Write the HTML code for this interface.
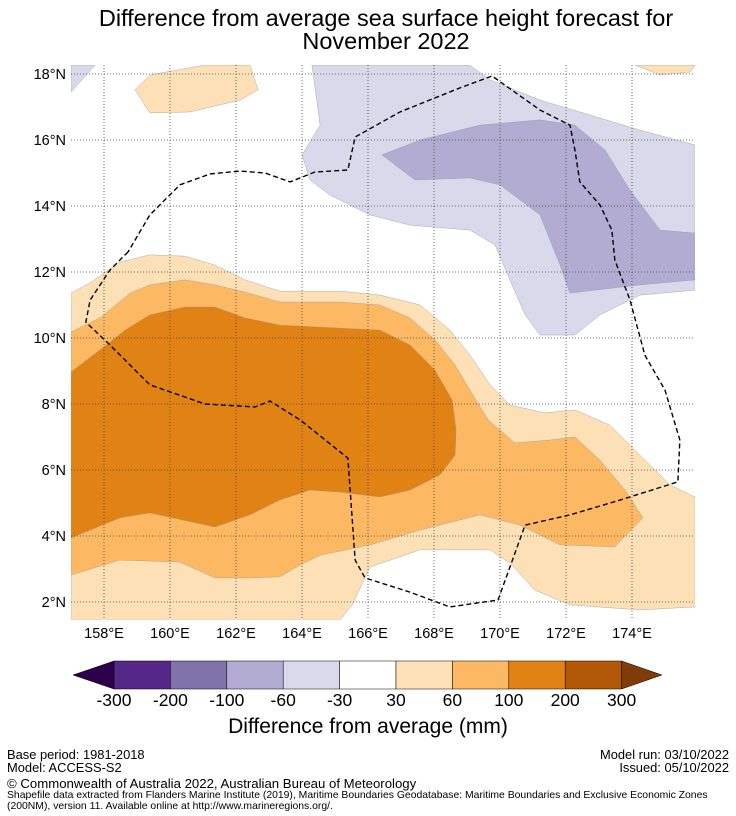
<!DOCTYPE html>
<html><head><meta charset="utf-8"><style>
body{margin:0;width:736px;height:816px;background:#fff;font-family:"Liberation Sans","DejaVu Sans",sans-serif;position:relative;overflow:hidden}
.t{position:absolute;white-space:nowrap;color:#000}
</style></head><body>
<div class="t" style="left:0;width:772px;text-align:center;top:7px;font-size:23.5px;line-height:23px">Difference from average sea surface height forecast for<br>November 2022</div>
<svg id="chart" width="736" height="740" style="position:absolute;left:0;top:0" font-family="Liberation Sans, DejaVu Sans, sans-serif"></svg>
<div class="t" style="left:7px;top:747px;font-size:12.9px">Base period: 1981-2018</div>
<div class="t" style="left:7px;top:760px;font-size:12.9px">Model: ACCESS-S2</div>
<div class="t" style="right:7px;top:747px;font-size:12.9px;text-align:right">Model run: 03/10/2022</div>
<div class="t" style="right:7px;top:760px;font-size:12.9px;text-align:right">Issued: 05/10/2022</div>
<div class="t" style="left:7px;top:776px;font-size:13.2px">© Commonwealth of Australia 2022, Australian Bureau of Meteorology</div>
<div class="t" style="left:7px;top:790px;font-size:10.4px;line-height:11px">Shapefile data extracted from Flanders Marine Institute (2019), Maritime Boundaries Geodatabase: Maritime Boundaries and Exclusive Economic Zones<br>(200NM), version 11. Available online at http://www.marineregions.org/.</div>
<script>
const lonTicks=[158,160,162,164,166,168,170,172,174];
const latTicks=[2,4,6,8,10,12,14,16,18];
const cbLabels=["-300","-200","-100","-60","-30","30","60","100","200","300"];
const cbColors=["#542788","#8073ac","#b2abd2","#d8daeb","#ffffff","#fee0b6","#fdb863","#e08214","#b35806"];
const contourA=[[157,11.36],[157.58,11.67],[158.48,12.3],[159.39,12.52],[160.45,12.48],[161.36,12.21],[162.27,11.76],[163.33,11.42],[165.15,11.42],[166.36,11.3],[167.58,11.0],[168.48,10.24],[169.09,9.48],[169.7,8.58],[170.3,7.97],[171.36,7.73],[172.27,7.82],[173.33,7.36],[174.24,6.45],[175.15,5.55],[175.91,5.18],[175.91,1.85],[174.24,1.76],[172.12,1.91],[171.06,2.36],[170.3,3.18],[169.7,3.58],[167.58,3.58],[166.06,3.06],[165.52,1.91],[165.15,1.45],[157,1.45]];
const contourB=[[157,10.18],[157.88,10.61],[158.79,11.36],[159.39,11.61],[160.45,11.76],[161.36,11.61],[162.27,11.39],[163.33,11.09],[165.15,11.09],[166.36,11.0],[167.27,10.61],[168.03,9.94],[168.64,9.18],[169.09,8.42],[169.64,7.52],[170.45,6.82],[171.52,6.91],[172.27,7.0],[173.03,6.3],[173.79,5.39],[174.33,4.55],[173.48,3.67],[171.82,3.73],[170.61,4.33],[169.39,4.64],[167.58,4.18],[166.06,3.73],[164.55,3.42],[163.94,3.12],[163.33,2.76],[162.42,2.73],[161.36,2.73],[160.3,3.21],[158.48,3.27],[157,2.82]];
const contourC=[[157,8.97],[157.88,9.64],[158.64,10.24],[159.39,10.7],[160.45,10.94],[161.36,10.94],[162.27,10.61],[163.33,10.39],[165.15,10.3],[166.36,10.24],[167.27,9.79],[168.03,9.03],[168.55,8.12],[168.67,7.21],[168.64,6.45],[168.18,5.85],[167.27,5.39],[166.36,5.18],[165.15,5.33],[164.24,5.39],[163.33,5.09],[162.42,4.64],[161.36,4.27],[159.39,4.7],[158.48,4.55],[157,3.94]];
const contourD=[[164.3,18.27],[169.09,18.27],[169.7,17.82],[171.21,17.21],[172.42,16.85],[174.24,16.3],[175.91,15.85],[175.91,11.45],[174.24,11.3],[173.03,10.7],[172.27,10.09],[171.21,10.09],[170.76,10.7],[170.3,11.76],[169.85,12.82],[169.09,13.27],[167.27,13.42],[166.06,13.73],[164.85,14.33],[164.24,14.79],[164.0,15.55],[164.55,16.45]];
const contourE=[[166.42,15.55],[167.58,16.0],[169.39,16.45],[171.21,16.61],[172.27,16.45],[173.18,15.7],[173.94,14.48],[174.85,13.27],[175.91,13.18],[175.91,11.76],[174.24,11.61],[172.12,11.36],[171.82,12.21],[171.21,13.73],[170.0,14.64],[169.09,14.85],[167.42,14.79]];
const contourF=[[159.39,17.97],[161.06,18.27],[162.42,18.27],[162.67,17.52],[162.12,17.21],[160.61,16.85],[159.39,16.82],[158.94,17.52]];
const contourG=[[174.09,18.27],[175.91,18.27],[175.76,18.06],[174.85,17.97]];
const contourH=[[157,18.27],[157.73,18.27],[157,17.45]];
const eez=[[158.73,12.61],[158.18,12.06],[157.58,11.15],[157.45,10.48],[158.18,9.79],[159.39,8.58],[161.06,8.0],[162.58,7.91],[163.03,8.09],[163.94,7.52],[165.39,6.36],[165.61,3.27],[165.91,2.73],[167.27,2.3],[168.48,1.85],[169.94,2.06],[170.76,4.33],[172.12,4.64],[173.64,5.09],[175.39,5.64],[175.45,6.91],[175.0,8.42],[174.39,9.48],[173.94,11.15],[173.48,12.36],[173.39,13.27],[173.03,14.03],[172.42,14.73],[172.27,15.7],[172.12,16.45],[171.21,16.91],[169.76,17.94],[168.79,17.58],[166.97,16.85],[165.61,16.09],[165.39,15.09],[164.39,15.03],[163.64,14.73],[162.88,15.0],[162.12,15.06],[161.21,14.97],[160.3,14.64],[159.39,13.73],[158.73,12.61]];

const NS="http://www.w3.org/2000/svg";
const svg=document.getElementById('chart');
const X0=71,X1=695,Y0=65,Y1=620;
const xs=lon=>71+(lon-157)*33;
const ys=lat=>74+(18-lat)*33;
function mk(tag,attrs,parent){const e=document.createElementNS(NS,tag);for(const k in attrs)e.setAttribute(k,attrs[k]);(parent||svg).appendChild(e);return e;}
const defs=mk('defs',{});
const cp=mk('clipPath',{id:'mapclip'},defs);
mk('rect',{x:X0,y:Y0,width:X1-X0,height:Y1-Y0},cp);
const g=mk('g',{'clip-path':'url(#mapclip)'});


function poly(pts,fill,name){
  const p=mk('polygon',{points:pts.map(d=>xs(d[0])+','+ys(d[1])).join(' '),fill:fill,stroke:'#999',"stroke-width":0.4},g);
  
  
}
poly(contourA,cbColors[5],'contour-30-60');
poly(contourB,cbColors[6],'contour-60-100');
poly(contourC,cbColors[7],'contour-100-200');
poly(contourD,cbColors[3],'contour-minus30-minus60');
poly(contourE,cbColors[2],'contour-minus60-minus100');
poly(contourF,cbColors[5],'contour-30-60-north');
poly(contourG,cbColors[5],'contour-30-60-northeast');
poly(contourH,cbColors[3],'contour-minus30-northwest');
lonTicks.forEach(l=>{
  const ln=mk('line',{x1:xs(l),x2:xs(l),y1:Y0,y2:Y1,stroke:'#444','stroke-width':0.8,'stroke-dasharray':'1,2'},g);
  
  
  const t=mk('text',{x:xs(l),y:638,'font-size':14.5,'text-anchor':'middle'});
  t.textContent=l+'°E';
  
  
});
latTicks.forEach(l=>{
  const ln=mk('line',{x1:X0,x2:X1,y1:ys(l),y2:ys(l),stroke:'#444','stroke-width':0.8,'stroke-dasharray':'1,2'},g);
  
  
  const t=mk('text',{x:66,y:ys(l)+5,'font-size':14.5,'text-anchor':'end'});
  t.textContent=l+'°N';
  
  
});
const ez=mk('polyline',{points:eez.map(d=>xs(d[0])+','+ys(d[1])).join(' '),fill:'none',stroke:'#000','stroke-width':1.4,'stroke-dasharray':'5,3'},g);


const cbL=114,cbW=56.4,cbT=661,cbH=28;
const cb=mk('g',{});


cbColors.forEach((c,i)=>{
  const r=mk('rect',{x:cbL+i*cbW,y:cbT,width:cbW,height:cbH,fill:c,stroke:'#000','stroke-width':0.5},cb);
  
  
});
const a1=mk('polygon',{points:`${cbL},${cbT} ${cbL},${cbT+cbH} 73,${cbT+cbH/2}`,fill:'#2d004b',stroke:'#000','stroke-width':0.5},cb);


const re=cbL+9*cbW;
const a2=mk('polygon',{points:`${re},${cbT} ${re},${cbT+cbH} 662,${cbT+cbH/2}`,fill:'#7f3b08',stroke:'#000','stroke-width':0.5},cb);


cbLabels.forEach((s,i)=>{
  const t=mk('text',{x:cbL+i*cbW,y:706,'font-size':17.5,'text-anchor':'middle'},cb);
  t.textContent=s;
  
  
});
const ct=mk('text',{x:368,y:733,'font-size':21,'text-anchor':'middle'},cb);
ct.textContent='Difference from average (mm)';


</script>
</body></html>
